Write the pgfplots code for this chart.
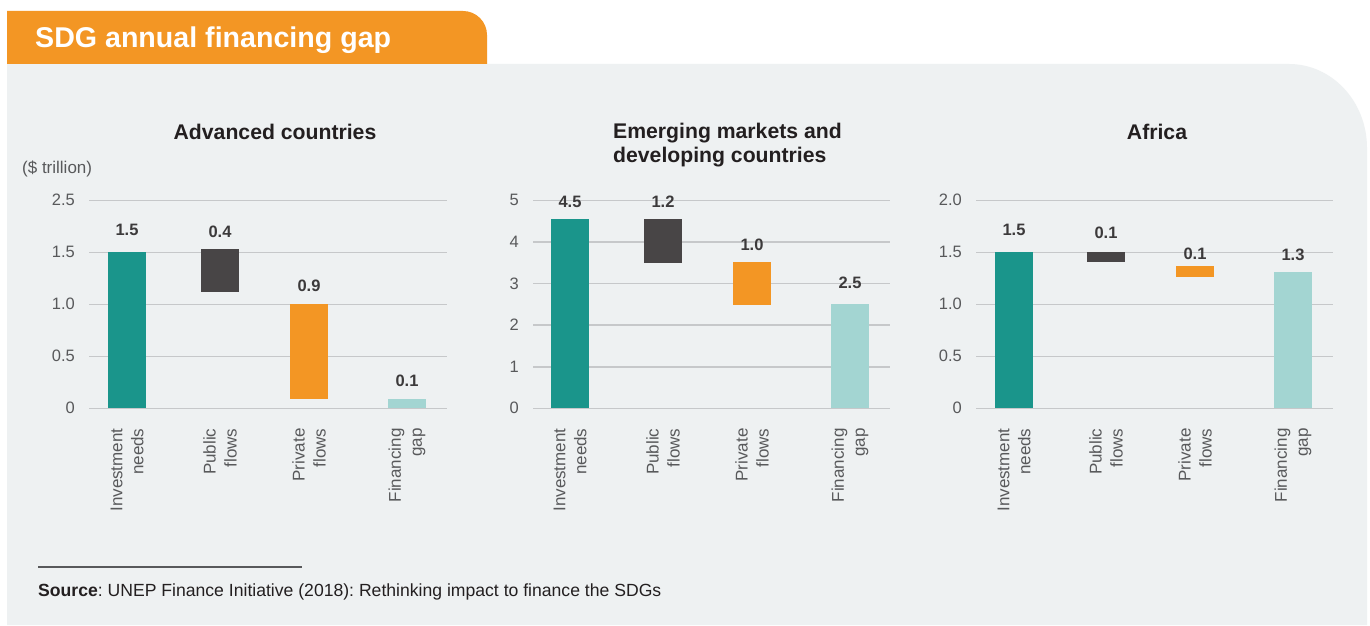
\documentclass[border=0pt]{standalone}
\usepackage{fontspec}
\setmainfont{Liberation Sans}
\usepackage{pgfplots}
\usepackage{pgfplotstable}
\pgfplotsset{compat=1.18}
\frenchspacing
\definecolor{cteal}{HTML}{1A958B}
\definecolor{cdark}{HTML}{484546}
\definecolor{corange}{HTML}{F39624}
\definecolor{clight}{HTML}{A3D5D2}
\definecolor{cpanel}{HTML}{EEF1F2}
\definecolor{cgrid}{HTML}{C6C8CA}
\definecolor{ctick}{HTML}{58595B}
\definecolor{cval}{HTML}{3C3A3B}
\definecolor{ctitle}{HTML}{231F20}

\pgfplotstableread{
x base inv pub priv gap
127 0 1.5 0 0 0
220 1.12 0 0.41 0 0
309 0.09 0 0 0.91 0
407 0 0 0 0 0.09
}\advtab
\pgfplotstableread{
x base inv pub priv gap
570 0 4.55 0 0 0
663 3.5 0 1.05 0 0
752 2.48 0 0 1.04 0
850 0 0 0 0 2.5
}\emtab
\pgfplotstableread{
x base inv pub priv gap
1014 0 1.5 0 0 0
1106 1.41 0 0.09 0 0
1195 1.265 0 0 0.103 0
1293 0 0 0 0 1.31
}\aftab

\pgfplotsset{
  wf/.style={
    scale only axis, width=357pt, height=208pt, anchor=south west,
    ymin=0, clip=false,
    axis line style={draw=none}, major tick length=0pt,
    ymajorgrids, grid style={line width=1.6pt, color=cgrid},
    ybar stacked, bar width=38pt,
    xtick=data,
    xticklabels={{Investment\\needs},{Public\\flows},{Private\\flows},{Financing\\gap}},
    xticklabel style={rotate=90, anchor=east, align=right, inner sep=0pt,
      font=\fontsize{17}{21}\selectfont, text=ctick, xshift=-20pt},
    yticklabel style={anchor=east, inner sep=0pt, xshift=-14pt,
      font=\fontsize{16.5}{20}\selectfont, text=ctick},
    /pgf/number format/assume math mode=true,
  },
}
\tikzset{vl/.style={font=\fontsize{16.5}{20}\selectfont\bfseries, text=cval, anchor=center}}

\begin{document}
\begin{tikzpicture}
\useasboundingbox (0pt,0pt) rectangle (1370pt,625pt);
\fill[white] (0pt,0pt) rectangle (1370pt,625pt);
% panel
\fill[cpanel] (7pt,0pt) -- (7pt,561pt) -- (1289pt,561pt)
  arc[start angle=90, end angle=0, x radius=78pt, y radius=84pt] -- (1367pt,0pt) -- cycle;
% tab
\fill[corange] (7pt,561pt) -- (7pt,614pt) -- (463pt,614pt)
  arc[start angle=90, end angle=0, radius=24pt] -- (487pt,561pt) -- cycle;
\node[anchor=base west, inner sep=0pt, text=white, font=\fontsize{28.6}{32}\selectfont\bfseries]
  at (35pt,577pt) {SDG annual financing gap};

% titles
\node[inner sep=0pt, text=ctitle, font=\fontsize{21.2}{24}\selectfont\bfseries] at (275pt,493pt) {Advanced countries};
\node[inner sep=0pt, anchor=west, align=left, text=ctitle, font=\fontsize{21.2}{24}\selectfont\bfseries] at (613pt,480pt) {Emerging markets and\\developing countries};
\node[inner sep=0pt, text=ctitle, font=\fontsize{21.2}{24}\selectfont\bfseries] at (1157pt,493pt) {Africa};
\node[inner sep=0pt, anchor=west, text=ctick, font=\fontsize{17}{20}\selectfont] at (22pt,456pt) {(\$ trillion)};

% Advanced
\begin{axis}[wf, at={(89pt,216.7pt)}, width=358pt, xmin=89, xmax=447, ymax=2,
  ytick={0,0.5,1,1.5,2}, yticklabels={0,0.5,1.0,1.5,2.5}]
\addplot[draw=none, fill=none] table[x=x,y=base]{\advtab};
\addplot[draw=none, fill=cteal] table[x=x,y=inv]{\advtab};
\addplot[draw=none, fill=cdark] table[x=x,y=pub]{\advtab};
\addplot[draw=none, fill=corange] table[x=x,y=priv]{\advtab};
\addplot[draw=none, fill=clight] table[x=x,y=gap]{\advtab};
\node[vl] at (axis cs:127,1.714) {1.5};
\node[vl] at (axis cs:220,1.695) {0.4};
\node[vl] at (axis cs:309,1.176) {0.9};
\node[vl] at (axis cs:407,0.263) {0.1};
\end{axis}

% Emerging
\begin{axis}[wf, at={(533pt,216.7pt)}, xmin=533, xmax=890, ymax=5,
  ytick={0,1,2,3,4,5}, yticklabels={0,1,2,3,4,5}]
\addplot[draw=none, fill=none] table[x=x,y=base]{\emtab};
\addplot[draw=none, fill=cteal] table[x=x,y=inv]{\emtab};
\addplot[draw=none, fill=cdark] table[x=x,y=pub]{\emtab};
\addplot[draw=none, fill=corange] table[x=x,y=priv]{\emtab};
\addplot[draw=none, fill=clight] table[x=x,y=gap]{\emtab};
\node[vl] at (axis cs:570,4.97) {4.5};
\node[vl] at (axis cs:663,4.97) {1.2};
\node[vl] at (axis cs:752,3.93) {1.0};
\node[vl] at (axis cs:850,3.01) {2.5};
\end{axis}

% Africa
\begin{axis}[wf, at={(976pt,216.7pt)}, xmin=976, xmax=1333, ymax=2,
  ytick={0,0.5,1,1.5,2}, yticklabels={0,0.5,1.0,1.5,2.0}]
\addplot[draw=none, fill=none] table[x=x,y=base]{\aftab};
\addplot[draw=none, fill=cteal] table[x=x,y=inv]{\aftab};
\addplot[draw=none, fill=cdark] table[x=x,y=pub]{\aftab};
\addplot[draw=none, fill=corange] table[x=x,y=priv]{\aftab};
\addplot[draw=none, fill=clight] table[x=x,y=gap]{\aftab};
\node[vl] at (axis cs:1014,1.714) {1.5};
\node[vl] at (axis cs:1106,1.688) {0.1};
\node[vl] at (axis cs:1195,1.484) {0.1};
\node[vl] at (axis cs:1293,1.474) {1.3};
\end{axis}

% source
\draw[line width=1.2pt, color=ctick] (38pt,58pt) -- (302pt,58pt);
\node[anchor=west, inner sep=0pt, text=ctitle, font=\fontsize{17.6}{20}\selectfont] at (38pt,33pt)
  {\textbf{Source}: UNEP Finance Initiative (2018): Rethinking impact to finance the SDGs};
\end{tikzpicture}
\end{document}
